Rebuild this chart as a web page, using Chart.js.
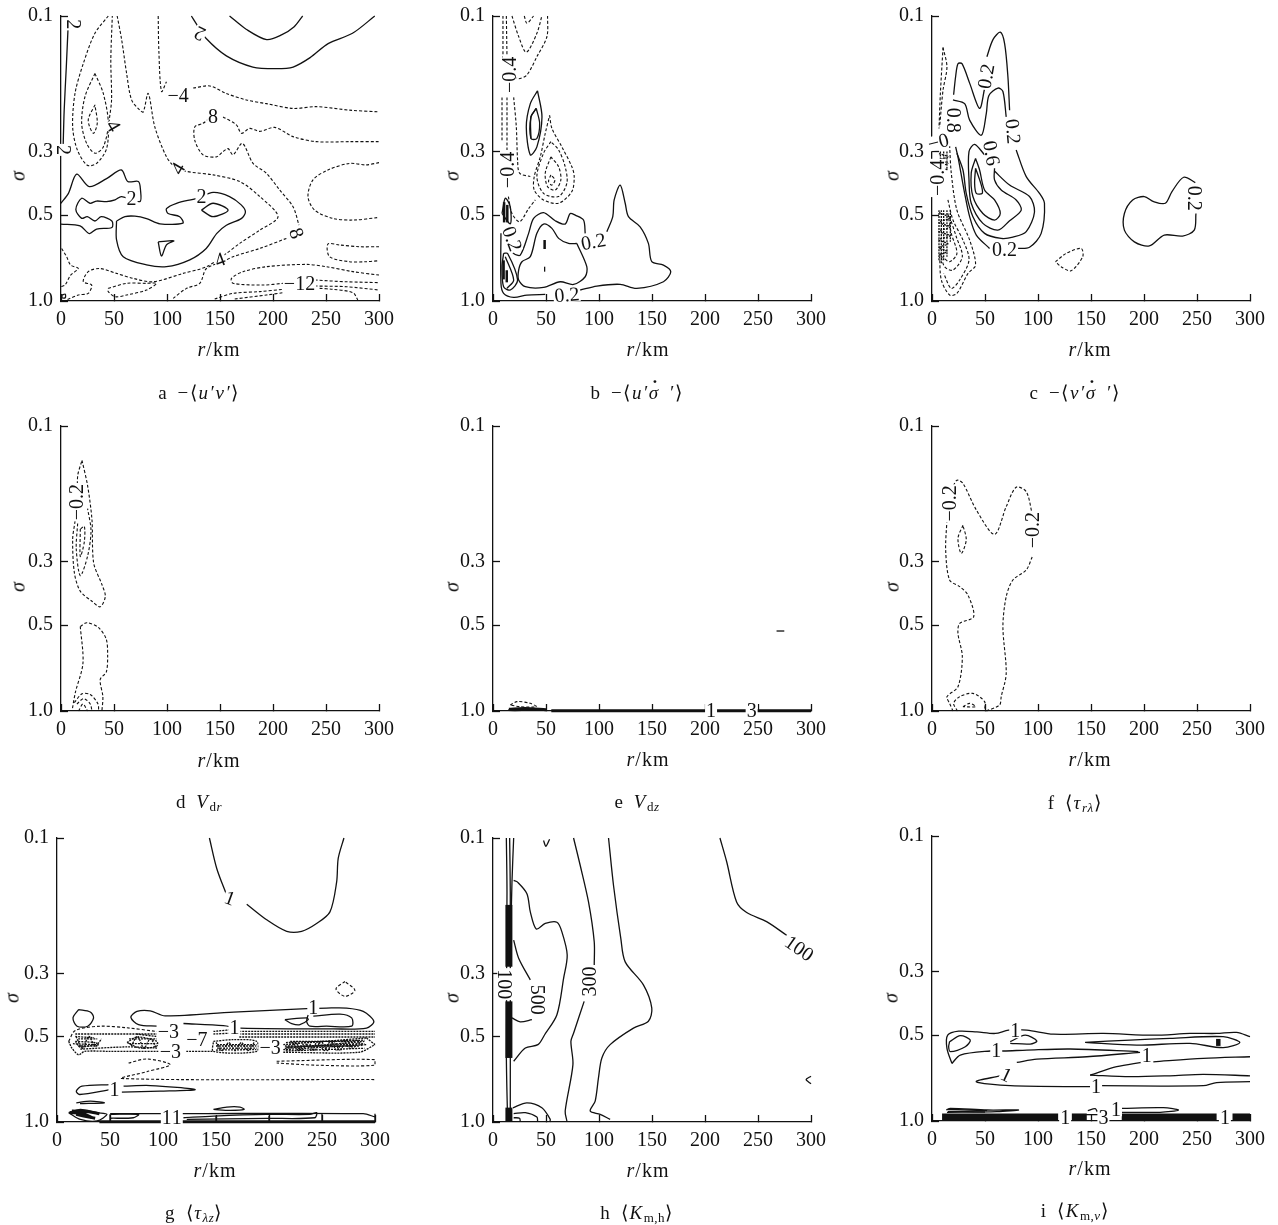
<!DOCTYPE html>
<html>
<head>
<meta charset="utf-8">
<title>Contours</title>
<script src="https://cdn.jsdelivr.net/npm/chart.js@4"></script>
<style>
html, body { margin: 0; padding: 0; background: #fff; overflow: hidden; }
#page { position: relative; width: 1278px; height: 1225px; font-family: "Liberation Serif", serif; color: #111; }
canvas { position: absolute; }
.txt { position: absolute; white-space: nowrap; transform: translate(-50%, -50%); }
.xt { font-size: 20px; letter-spacing: 1px; }
.yt { font-size: 20px; font-style: italic; transform: translate(-50%, -50%) rotate(-90deg); }
.cap { font-size: 19px; letter-spacing: 1.6px; word-spacing: 3px; }
.cap sub { font-size: 13px; vertical-align: -3px; letter-spacing: 0.5px; }
.dot { position: relative; }
.dot::after { content: "˙"; position: absolute; left: 3px; top: -6px; font-weight: bold; font-style: normal; }
</style>
</head>
<body>
<div id="page"></div>
<script>
// axis values
const xMin = 0, xMax = 300, xStep = 50;
const yTicks = [0.1, 0.3, 0.5, 1.0];

// a: -<u'v'>
const aSolid = [
  [[7,.103],[5,.151],[3,.214],[2,.288]],
  [[159,.1],[175,.1115],[194,.121],[208,.1165],[220,.109],[228,.1]],
  [[123,.1],[128,.107],[137,.12],[156,.138],[181,.151],[203,.153],[219,.151],[235,.14],[252,.125],[275,.115],[296,.1]],
  [[0,.454],[7,.419],[14.8,.359],[26.7,.397],[43,.372],[57,.347],[63,.381],[73,.381],[75,.408],[74.4,.448],[57,.43],[51,.442],[43,.448],[33.6,.446],[27.3,.454],[19.5,.436],[14,.477],[19.5,.513],[24.8,.506],[32,.524],[38,.506],[48,.524],[48,.552],[33.6,.559],[26.7,.58],[18,.545],[0,.537]],
  [[52.4,.524],[60.3,.506],[69.7,.504],[80.7,.514],[93.3,.536],[115,.533],[112,.506],[101,.493],[99.5,.474],[109,.454],[128,.436],[143.5,.416],[159,.43],[170,.46],[174,.487],[170,.514],[156,.542],[147,.579],[137,.654],[121.5,.717],[99.5,.758],[80.7,.747],[58.7,.699],[52.4,.61],[52.4,.524]],
  [[132.5,.48],[143.5,.454],[157.6,.48],[143.5,.506],[132.5,.48]],
  [[91.7,.62],[106.4,.615],[99.5,.635],[94.8,.695],[91.7,.62]],
  [[1,.953],[4,.946],[4,.974],[1,.974],[1,.953]]
];
const aDashed = [
  [[44.6,.1],[32,.115],[21,.147],[13.2,.187],[11,.245],[15.4,.295],[24.8,.334],[33.6,.329],[43,.292],[45.5,.232],[47.7,.197],[47,.143],[48.4,.1]],
  [[32,.159],[22.6,.192],[19.5,.238],[24.2,.28],[32,.303],[39.9,.288],[44.6,.238],[39.9,.187],[32,.159]],
  [[32,.205],[25.7,.232],[30.5,.258],[34.2,.238],[32,.205]],
  [[53,.1],[57.2,.121],[61.9,.159],[66.6,.197],[74.4,.214],[77.6,.217],[82.3,.187],[88.5,.245],[99.5,.312],[107.4,.338],[118.4,.351],[143.5,.361],[168.6,.381],[187.5,.43],[204.7,.506],[187.5,.564],[168.6,.628],[156,.681],[137.2,.758],[115.2,.8],[87,.856],[68.1,.833],[52.4,.8],[36.7,.769],[25.7,.789],[21,.856],[28.9,.879],[25.7,.94],[16.3,.953],[5.3,.992]],
  [[44.6,.903],[61.9,.867],[80.7,.867],[90.1,.867],[80.7,.915],[61.9,.953],[50.9,.966],[44.6,.927],[44.6,.903]],
  [[.6,.654],[5.3,.699],[9.1,.748],[16.3,.769],[9.1,.811],[3.8,.879],[0,.891]],
  [[91.7,.1],[92.3,.132],[94.8,.184],[99.5,.17]],
  [[124.7,.179],[140.4,.176],[156,.187],[174.9,.197],[193.7,.203],[218.9,.211],[240.8,.208],[272.2,.214],[300,.217]],
  [[143.5,.223],[134,.238],[126.2,.245],[126.2,.273],[134,.307],[146.6,.312],[152.9,.299],[157.6,.292],[162.3,.307],[171.1,.28],[181.2,.329],[193.7,.356],[206.3,.408],[218.9,.467],[224.5,.542]],
  [[212.6,.603],[187.5,.654],[162.3,.699],[152.9,.728],[137.2,.769],[130.9,.867],[118.4,.903],[105.8,.979]],
  [[152.9,.226],[165.5,.241],[170.2,.258],[178,.248],[187.5,.254],[201.6,.246],[218.9,.265],[240.8,.276],[272.2,.276],[300,.276]],
  [[300,.327],[288,.333],[272.2,.329],[251.8,.347],[237.7,.376],[233,.43],[239.3,.48],[256.5,.513],[275.4,.52],[300,.509]],
  [[300,.645],[281.7,.645],[262.8,.636],[251.8,.631],[253.4,.699],[272.2,.728],[288,.728],[300,.722]],
  [[300,.811],[275.4,.789],[250.3,.758],[231.4,.744],[193.7,.758],[171.8,.789],[160.8,.833],[162.3,.867],[190.6,.879],[209.4,.867]],
  [[239.3,.844],[269.1,.856],[300,.862]],
  [[239.3,.886],[269.1,.891],[300,.915]],
  [[145,.984],[162.3,.94],[187.5,.927],[209.4,.91]],
  [[163.9,.984],[193.7,.953],[209.4,.935]],
  [[244,.903],[256.5,.91],[275.4,.935],[280,.992]]
];
const aLabels = [
  ['2',131,.115,205],['2',11.6,.107,90],['−4',110.5,.19,0],['8',143.5,.226,0],['4',49.3,.243,60],
  ['2',2,.295,90],['4',110.5,.343,-60],['2',66.6,.436,0],['2',132.5,.43,0],['8',222,.579,70],
  ['4',150,.718,-20],['−12',225,.867,0]
];

// b: -<u' sigma-dot'>
const bSolid = [
  [[107.4,.571],[113,.506],[114.3,.442],[120,.392],[124.7,.454],[127.8,.506],[138.8,.549],[146.6,.628],[149.8,.728],[160.8,.748],[167.7,.789],[160.8,.856],[135.6,.903],[120,.874],[98,.886],[82.3,.915]],
  [[49.3,.948],[32,.953],[19.5,.971],[10,.94],[7.5,.867],[7.5,.579]],
  [[87,.579],[85.4,.52],[77.6,.5],[72.8,.493],[68.1,.537],[58.7,.523],[47.7,.49],[38.3,.513],[33.6,.579],[25.7,.69],[19.5,.681],[13.8,.636]],
  [[79.1,.628],[88.5,.758],[87,.822],[76,.875],[63.4,.856],[47.7,.896],[30.5,.891],[24.2,.844],[24.2,.779],[27.3,.728],[35.2,.699],[41.4,.579],[47.7,.537],[55.6,.556],[61.9,.603],[71.3,.628],[79.1,.628]],
  [[8.5,.493],[11.6,.436],[16.3,.467],[16.3,.536],[8.5,.493]],
  [[10,.681],[13.8,.681],[23.2,.844],[16.3,.915],[10,.891],[8.5,.758],[10,.681]],
  [[11.6,.699],[19.5,.844],[13.2,.903]],
  [[48.7,.758],[48.7,.789]],
  [[42,.183],[35.2,.203],[31.4,.245],[35.2,.307],[41.4,.288],[46.2,.226],[42,.183]],
  [[40.8,.211],[35.8,.226],[35.8,.269],[41.4,.269],[44,.238],[40.8,.211]],
  [[40.8,.211],[35.8,.226],[35.8,.269]]
];
const bThick = [
  [[48.7,.611],[48.7,.657]],
  [[10,.72],[10,.84]],
  [[13,.78],[13,.86]],
  [[10.5,.45],[10.5,.53]],
  [[13.5,.46],[13.5,.53]]
];
const bDashed = [
  [[9.4,.1],[9.4,.14]],
  [[12.6,.1],[13.2,.14]],
  [[17.9,.1],[24.2,.118],[31.4,.134],[41.4,.115],[46.1,.1]],
  [[29.5,.1],[32,.106],[38.3,.1]],
  [[51.5,.1],[50.9,.118],[41.4,.139],[32,.161],[24.2,.166],[19.5,.163]],
  [[8.5,.193],[8.5,.273]],
  [[13.2,.193],[13.2,.295]],
  [[19.5,.193],[22,.245],[23.2,.32],[25.1,.356],[35.2,.366]],
  [[53.4,.223],[55.6,.248],[65,.288],[74.4,.338],[76.6,.366],[74.4,.413],[61.9,.454],[47.7,.442],[38.9,.408],[38.9,.366],[44.6,.312],[49.3,.258],[53.4,.223]],
  [[54.6,.276],[47.7,.303],[41.4,.366],[47.7,.419],[61.9,.43],[69.7,.386],[68.1,.338],[61.9,.295],[54.6,.276]],
  [[54.6,.312],[49.3,.356],[51.5,.397],[58.7,.408],[64,.376],[61.9,.338],[54.6,.312]],
  [[54.6,.361],[52.4,.381],[55.6,.392],[58.4,.376],[54.6,.361]],
  [[14.5,.43],[17.9,.493],[25.1,.527],[33.6,.474],[39.9,.442]]
];
const bLabels = [
  ['−0.4',15.7,.161,-90],['−0.4',13.8,.347,-90],['0.2',17.9,.605,70],['0.2',94.8,.62,-10],['0.2',69.7,.953,-5]
];

// c: -<v' sigma-dot'>
const cSolid = [
  [[51.8,.139],[57.5,.121],[64.4,.114],[68.5,.125],[71.6,.163],[73.2,.214]],
  [[79.4,.295],[88.9,.366],[101.4,.419],[106.1,.454],[103,.579],[92,.648],[79.4,.654]],
  [[54.3,.654],[41.8,.587],[35.5,.506],[30.8,.419],[24.5,.312],[22.3,.288]],
  [[49.6,.18],[44.9,.211],[35.5,.172],[28.3,.147],[24.5,.147],[22.3,.163],[20.4,.189]],
  [[19.8,.197],[30.8,.203],[35.5,.232],[46.5,.262],[51.2,.22],[53.7,.19],[62.2,.179],[66.9,.184],[70,.226]],
  [[58.9,.35],[73.2,.392],[92,.43],[96.7,.487],[88.9,.571],[76.3,.597],[65.3,.603],[49.6,.579],[38.6,.506],[32.3,.419],[29.2,.347],[23.5,.303]],
  [[49.6,.307],[40.2,.282],[34.9,.299],[34.9,.376],[37,.454],[48,.534],[62.2,.564],[73.2,.523],[84.2,.48],[79.4,.442],[65.3,.408],[59,.376],[59,.342]],
  [[41.1,.316],[37,.356],[38.6,.43],[48,.493],[59,.52],[64.4,.493],[59,.442],[49.6,.408],[44.9,.347],[41.1,.316]],
  [[41.1,.342],[40.2,.386],[41.8,.419],[47.4,.419],[46.5,.392],[41.1,.342]],
  [[248.4,.384],[237.4,.368],[226.4,.413],[220.1,.454],[209.1,.448],[200.3,.43],[189.3,.442],[181.5,.493],[181.5,.564],[190.9,.62],[205,.641],[219.1,.587],[236.4,.592],[247.4,.564],[249,.493]]
];
const cDashed = [
  [[10.4,.129],[14.1,.151],[10.4,.182],[7.2,.245]],
  [[10.4,.129],[7.9,.187],[6.6,.248]],
  [[16.6,.284],[18.2,.356],[23.5,.48],[35.5,.611],[41.1,.748],[34,.8],[23.5,.94],[16.6,.953],[8.8,.844],[7.2,.699]],
  [[15,.442],[19.8,.52],[29.2,.611],[34.9,.718],[26.1,.844],[18.2,.903],[11,.8]],
  [[16.6,.506],[22.9,.595],[28.6,.699],[19.8,.779],[11.9,.758],[7.9,.681]],
  [[15,.493],[18.2,.579],[23.5,.681],[16.6,.728],[9.7,.699]],
  [[116.5,.728],[126.5,.681],[140.7,.654],[142.2,.699],[131.2,.783],[121.8,.758],[116.5,.728]]
];
const cDense = [
  [[7.9,.299],[7.9,.347]],[[11,.299],[11,.347]],[[14.1,.299],[14.1,.347]],
  [[6.6,.304],[15,.312],[6.6,.32],[15,.329],[6.6,.338],[15,.347]],
  [[6.6,.48],[6.6,.72]],[[8.8,.48],[8.8,.74]],[[11,.48],[11,.72]],[[14.1,.48],[14.1,.7]],[[17.3,.48],[17.3,.62]],
  [[6.6,.49],[17,.51],[6.6,.53],[17,.55],[6.6,.57],[17,.59],[6.6,.61],[15,.63],[6.6,.65],[14,.67],[6.6,.69]]
];
const cLabels = [
  ['0.2',51.2,.163,-80],['0.2',76.3,.254,85],['0.6',55.9,.303,80],['0.8',19.8,.232,90],['−0',6,.277,-15],
  ['−0.4',5.6,.37,-90],['0.2',68.5,.66,0],['0.2',247.4,.436,90]
];

// d: V_dr
const dSolid = [];
const dDashed = [
  [[19.8,.132],[25.1,.162],[29.2,.213],[30.8,.302],[38.6,.36],[41.8,.396],[37,.431],[29.2,.412],[18.2,.38],[12.6,.327],[11,.25],[13,.219],[15.7,.19],[15.7,.15],[19.8,.132]],
  [[15.7,.22],[14.4,.27],[18.2,.335],[25.1,.286],[28.3,.233],[25.1,.195]],
  [[18.2,.23],[18.2,.287],[22,.255],[22,.225],[18.2,.23]],
  [[18.2,.505],[24.5,.49],[35.5,.51],[42.7,.56],[44,.64],[42.7,.73],[37,.775],[39.5,.89],[38.6,1]],
  [[18.2,.505],[20.7,.68],[13.5,.862],[10.4,1]],
  [[12.6,.935],[19.8,.87],[27.6,.875],[34.9,.945],[35.5,1]],
  [[15,.945],[21.4,.905],[27.6,.945],[29.2,1]],
  [[16.6,1],[20.7,.945],[25,1]]
];
const dLabels = [['−0.2',15,.185,-90]];

// e: V_dz
const eSolid = [
  [[15,.985],[15,.995],[30,.995],[45,.99]],
  [[267.5,.524],[274.8,.524]]
];
const eThick = [
  [[55,.998],[300,.998]],
  [[15,.985],[30,.98],[50,.99]]
];
const eDashed = [
  [[16.3,.953],[22.6,.927],[35.2,.94],[40.8,.966],[25.7,.966],[16.3,.953]]
];
const eLabels = [['1',205.7,1,0],['3',244,1,0]];

// f: <tau_r lambda>
const fSolid = [];
const fDashed = [
  [[14.1,.214],[12.9,.273],[16.6,.347],[26.1,.366],[33.9,.392],[39.3,.467],[26.1,.493],[24.5,.534],[28.6,.645],[24.5,.822],[14.1,.891],[16.6,.94],[19.8,1]],
  [[18.2,.168],[23.5,.155],[29.2,.159],[41.8,.197],[59,.24],[70,.192],[79.4,.164],[88.9,.17],[94.5,.203]],
  [[94.5,.288],[88.9,.32],[76.3,.347],[70,.397],[66.9,.506],[70,.738],[65.3,.891],[63.7,.953],[51.2,1]],
  [[29.2,.223],[24.5,.248],[27.6,.28],[32.3,.251],[29.2,.223]],
  [[24,1],[20.4,.94],[26.1,.891],[38.6,.867],[49.6,.927],[49.6,1]],
  [[29.2,.966],[35.5,.94],[41.1,.966],[29.2,.966]]
];
const fLabels = [['−0.2',16.6,.187,-90],['−0.2',95,.232,-90]];

// g: <tau_lambda z>
const gSolid = [
  [[143.8,.1],[150.7,.128],[160.1,.159]],
  [[179,.171],[197.8,.194],[216.7,.213],[230.8,.213],[244.9,.2],[257.5,.182],[263.8,.143],[265.3,.118],[270.7,.1]],
  [[20.4,.402],[15.1,.43],[18.9,.46],[29,.46],[34.5,.43],[31.4,.41],[20.4,.402]],
  [[94.2,.46],[76.9,.454],[69.7,.428],[75.4,.408],[87.9,.406],[102,.423],[166.4,.41],[235.5,.399],[254.3,.397],[273.2,.397],[288.9,.408],[298.9,.442],[292,.467],[260.6,.47],[172.7,.467],[157,.458],[119.3,.45]],
  [[241.8,.424],[267,.417],[278,.43],[278,.46],[254.3,.46],[238.6,.46],[235.5,.442],[237,.419]],
  [[215,.436],[235.5,.43],[237,.436],[229.2,.454],[221.4,.45],[215,.436]],
  [[50.2,.738],[23.5,.748],[18.2,.779],[21.4,.8],[50.2,.769]],
  [[62.8,.748],[87.9,.744],[130.3,.769],[97.3,.779],[61.2,.785]],
  [[18.2,.856],[31.4,.844],[44.6,.856],[21.7,.862]],
  [[11,.927],[22,.903],[37.7,.927],[47.1,.94],[37.7,.992],[22,.979],[11,.927]],
  [[50.2,.935],[100.5,.935]],[[117.8,.935],[288.9,.935],[300,.96]],
  [[50.2,.94],[76.9,.94],[72,.966],[50.2,.97]],
  [[119.3,.966],[147.6,.953],[197.8,.94],[238.6,.94],[245,.927],[243.2,.966],[197.8,.971],[122.4,.979]],
  [[147.6,.903],[160.1,.886],[172.7,.886],[176.5,.903],[163.3,.91],[147.6,.903]],
  [[300,.935],[300,1]],[[250,.935],[250,1]],[[200,.95],[200,1]],[[150,.95],[150,1]],[[50,.94],[50,1]]
];
const gThick = [
  [[14,.915],[30,.92],[40,.935]],
  [[18,.94],[30,.96],[36,.97]],
  [[12,.925],[25,.935],[33,.965]],
  [[40,.998],[100,.998]],
  [[118,.998],[300,.998]]
];
const gDashed = [
  [[271.6,.32],[263.2,.34],[271.6,.361],[281,.344],[271.6,.32]],
  [[11,.52],[17.3,.476],[40.8,.46],[66,.466],[94.2,.48]],
  [[67.5,.62],[84.8,.6],[106.8,.628],[84.8,.665],[61.2,.703],[300,.709]],
  [[207.2,.611],[300,.603],[300,.631],[245,.631],[207.2,.62]]
];
const gDense = [
  [[17.3,.49],[40.8,.49],[94.2,.49]],
  [[11,.52],[14,.549],[20.4,.58],[26,.564],[50.2,.564],[94.2,.564],[115,.564]],
  [[17.3,.52],[37.7,.527],[22,.545],[17.3,.52]],
  [[66,.525],[75.4,.502],[94.2,.52],[94.2,.54],[78.5,.549],[66,.525]],
  [[22,.554],[66,.544],[94.2,.549]],
  [[17.3,.5],[35,.505]],[[15,.53],[40,.535]],[[75,.49],[94,.5]],
  [[20,.51],[38,.51]],[[20,.54],[38,.54]],[[68,.51],[94,.51]],[[68,.53],[94,.53]],
  [[147.6,.48],[172,.47]],[[147.6,.49],[172,.485]],
  [[172,.48],[300,.48]],[[172,.49],[300,.49]],[[172,.502],[300,.502]],
  [[147.6,.52],[166.4,.513],[188.4,.52],[188.4,.564],[147.6,.564],[147.6,.52]],
  [[151,.534],[188.4,.534]],[[151,.549],[188.4,.549]],[[150,.54],[188,.54]],[[150,.558],[188,.556]],
  [[122,.564],[147.6,.564]],
  [[213.5,.534],[292,.506]],[[213.5,.556],[292,.534]],[[213.5,.568],[285,.568],[300,.534]],
  [[292,.506],[300,.534]],
  [[220,.52],[280,.52]],[[215,.54],[285,.54]],[[215,.55],[290,.52]],
  [[216,.525],[290,.515]],[[216,.545],[290,.53]],[[216,.562],[290,.55]],
  [[216,.56],[222,.525],[228,.56],[234,.525],[240,.56],[246,.52],[252,.56],[258,.52],[264,.56],[270,.515],[276,.55],[282,.515],[288,.54]],
  [[219,.56],[225,.525],[231,.56],[237,.525],[243,.56],[249,.52],[255,.56],[261,.52],[267,.56],[273,.515],[279,.55],[285,.515]],
  [[18,.5],[24,.55],[30,.5],[36,.54],[42,.51]],
  [[70,.54],[76,.5],[82,.55],[88,.51],[94,.55]],
  [[150,.525],[156,.56],[162,.525],[168,.56],[174,.525],[180,.56],[186,.525]]
];
const gLabels = [
  ['1',163,.163,20],['1',241.8,.397,0],['1',167.4,.467,0],['−3',105,.48,0],['−7',132,.513,0],['−3',107,.564,0],
  ['−3',201,.549,0],['1',54.2,.769,0],['1',103.6,.966,0],['1',113,.966,0]
];

// h: <K_m,h>
const hSolid = [
  [[12.6,.1],[13.2,.155],[12.6,.579],[13.8,1]],
  [[15.7,.1],[16.3,.155],[16.3,1]],
  [[19.5,.1],[17.9,.143],[16.3,.258]],
  [[19.5,.141],[23.2,.143],[32,.157],[35.2,.182],[40.8,.209],[49.3,.2],[60.3,.198],[65,.214],[70,.258],[66.6,.312],[60.3,.419],[48.7,.493],[42.4,.534],[30.5,.549],[19.5,.611]],
  [[19.5,.229],[24.2,.265],[35.2,.316]],
  [[17.9,.43],[25.7,.444],[36.7,.436]],
  [[76,.1],[82.3,.125],[90.1,.168],[95.5,.232],[95.5,.28]],
  [[86,.376],[76,.487],[73.5,.52],[75.4,.628],[68.1,.915],[69.7,.992]],
  [[109,.1],[113.7,.147],[120.6,.226],[124.7,.273],[141.9,.329],[149.8,.397],[146.6,.442],[132.5,.467],[110.5,.534],[102.7,.595],[99.5,.699],[96.4,.844],[91.7,.915],[101.1,.94],[110.5,.979]],
  [[214.1,.1],[220.4,.121],[229.8,.168],[239.3,.183],[258.1,.197],[277,.22]],
  [[18.8,.891],[32,.856],[46.1,.891],[54,.979],[53.4,1]],
  [[19.5,.935],[30.5,.927],[41.4,.961],[42.1,1]],
  [[19.5,.966],[25.1,.97],[25.7,1]],
  [[47.7,.102],[49.9,.107],[53.4,.101]],
  [[300,.69],[295.4,.709],[300,.734]]
];
const hThick = [
  [[15,.172],[15,.284]],
  [[15,.376],[15,.595]],
  [[15,.89],[15,1]]
];
const hDashed = [];
const hLabels = [['500',41.4,.371,90],['100',288.9,.245,35],['100',10.7,.327,90],['300',91.7,.32,-90]];

// i: <K_m,v>
const iSolid = [
  [[18.8,.628],[14.1,.556],[14.8,.5],[25.1,.484],[42.4,.487],[59.7,.493],[72.2,.48],[89.5,.48],[114.6,.496],[161.7,.493],[208.8,.5],[243.4,.493],[268.5,.493],[287.3,.489],[300,.506]],
  [[18.8,.628],[26.7,.587],[55,.568],[67.5,.568],[89.5,.564],[130.3,.559],[194.7,.571]],
  [[144.4,.53],[186.8,.52],[224.5,.513],[274.7,.506],[290.4,.53],[274.7,.553],[243.4,.534],[193.1,.542],[144.4,.53]],
  [[16.6,.527],[26.7,.502],[36.1,.52],[31.4,.549],[17.3,.571],[15.7,.549],[16.6,.527]],
  [[73.8,.527],[87.9,.5],[98.9,.524],[92.6,.537],[73.8,.534]],
  [[80,.623],[98.9,.607],[146,.595],[196.3,.574]],
  [[149.2,.69],[174.3,.645],[197.8,.623]],
  [[208.8,.62],[255.9,.603],[300,.595]],
  [[64.4,.694],[41.8,.728],[73.8,.752],[149.2,.758]],
  [[158.6,.752],[255.9,.752],[268.5,.733],[300,.728]],
  [[149.2,.69],[186.8,.699],[224.5,.694],[255.9,.686],[300,.694]],
  [[13.5,.915],[17.3,.903],[51.8,.915],[81.6,.915],[61.2,.927],[14.1,.932]],
  [[15,.91],[52,.92]],[[15,.925],[50,.93]],
  [[179,.903],[218.3,.898],[232.4,.915],[215.2,.932],[179,.932]],
  [[147,.92],[154,.905],[156,.93]],
  [[140,.95],[158,.95]]
];
const iThick = [
  [[268,.53],[272.2,.53]],
  [[9.5,.968],[119,.968]],
  [[131.9,.968],[146,.968]],
  [[179,.968],[268.5,.968]],
  [[283.5,.968],[300,.968]]
];
const iDashed = [];
const iLabels = [
  ['1',78.5,.484,0],['1',60.6,.568,0],['1',202.5,.592,0],['1',70,.69,25],['1',154.8,.758,0],
  ['1',125.6,.975,0],['3',161.7,.975,0],['1',173.6,.91,0],['1',276.3,.975,0]
];

const FONT = '"Liberation Serif", serif';
const INK = '#111';

const panels = [
  { box: [61, 16, 379, 301], solid: aSolid, thick: [], dashed: aDashed, dense: [], thickW: 3, labels: aLabels, xt: [219, 349], yt: [18, 176], cap: [199, 392],
    html: 'a −⟨<i>u′v′</i>⟩' },
  { box: [493, 16, 811, 301], solid: bSolid, thick: bThick, dashed: bDashed, dense: [], thickW: 2.5, labels: bLabels, xt: [648, 349], yt: [452, 176], cap: [637, 392],
    html: 'b −⟨<i>u′<span class="dot">σ</span> ′</i>⟩' },
  { box: [932, 16, 1250, 301], solid: cSolid, thick: [], dashed: cDashed, dense: cDense, thickW: 3, labels: cLabels, xt: [1090, 349], yt: [892, 176], cap: [1075, 392],
    html: 'c −⟨<i>v′<span class="dot">σ</span> ′</i>⟩' },
  { box: [61, 426, 379, 711], solid: dSolid, thick: [], dashed: dDashed, dense: [], thickW: 3, labels: dLabels, xt: [219, 760], yt: [18, 587], cap: [199, 803],
    html: 'd <i>V</i><sub>d<i>r</i></sub>' },
  { box: [493, 426, 811, 711], solid: eSolid, thick: eThick, dashed: eDashed, dense: [], thickW: 3, labels: eLabels, xt: [648, 759], yt: [452, 587], cap: [637, 803],
    html: 'e <i>V</i><sub>d<i>z</i></sub>' },
  { box: [932, 426, 1250, 711], solid: fSolid, thick: [], dashed: fDashed, dense: [], thickW: 3, labels: fLabels, xt: [1090, 759], yt: [892, 587], cap: [1075, 803],
    html: 'f ⟨<i>τ</i><sub><i>rλ</i></sub>⟩' },
  { box: [57, 838, 375, 1122], solid: gSolid, thick: gThick, dashed: gDashed, dense: gDense, thickW: 3, labels: gLabels, xt: [215, 1170], yt: [12, 998], cap: [194, 1213],
    html: 'g ⟨<i>τ</i><sub><i>λz</i></sub>⟩' },
  { box: [493, 838, 811, 1122], solid: hSolid, thick: hThick, dashed: hDashed, dense: [], thickW: 7, labels: hLabels, xt: [648, 1170], yt: [452, 998], cap: [637, 1213],
    html: 'h ⟨<i>K</i><sub>m,h</sub>⟩' },
  { box: [932, 836, 1250, 1121], solid: iSolid, thick: iThick, dashed: iDashed, dense: [], thickW: 7, labels: iLabels, xt: [1090, 1168], yt: [891, 998], cap: [1075, 1211],
    html: 'i ⟨<i>K</i><sub>m,<i>v</i></sub>⟩' }
];

const page = document.getElementById('page');

function addText(cls, pos, html) {
  const el = document.createElement('div');
  el.className = 'txt ' + cls;
  el.style.left = pos[0] + 'px';
  el.style.top = pos[1] + 'px';
  el.innerHTML = html;
  page.appendChild(el);
}

function toDataset(line, width, dash) {
  return {
    data: line.map(p => ({ x: p[0], y: p[1] })),
    showLine: true, pointRadius: 0, borderColor: INK, backgroundColor: INK,
    borderWidth: width, borderDash: dash, tension: 0.3, clip: 4
  };
}

// contour labels, with a white box that breaks the line behind them
const labelPlugin = {
  id: 'contourLabels',
  afterDatasetsDraw(chart, args, opts) {
    const ctx = chart.ctx;
    opts.items.forEach(([text, r, s, angle]) => {
      const px = chart.scales.x.getPixelForValue(r);
      const py = chart.scales.y.getPixelForValue(s);
      ctx.save();
      ctx.translate(px, py);
      ctx.rotate(angle * Math.PI / 180);
      ctx.font = '20px ' + FONT;
      ctx.textAlign = 'center';
      ctx.textBaseline = 'middle';
      const w = ctx.measureText(text).width;
      ctx.fillStyle = '#fff';
      ctx.fillRect(-w / 2 - 1, -7, w + 2, 14);
      ctx.fillStyle = INK;
      ctx.fillText(text, 0, 1);
      ctx.restore();
    });
  }
};

const PAD_L = 60, PAD_T = 15, PAD_R = 25, PAD_B = 45;

// the tick labels must not push the plot area in: its box is fixed by the padding above
function fixFit(s, prop, size) {
  s[prop] = size;
  s.paddingLeft = s.paddingRight = s.paddingTop = s.paddingBottom = 0;
}

panels.forEach(p => {
  const [x0, y0, x1, y1] = p.box;
  const canvas = document.createElement('canvas');
  canvas.width = x1 - x0 + PAD_L + PAD_R;
  canvas.height = y1 - y0 + PAD_T + PAD_B;
  canvas.style.left = (x0 - PAD_L) + 'px';
  canvas.style.top = (y0 - PAD_T) + 'px';
  page.appendChild(canvas);

  const datasets = [
    ...p.solid.map(l => toDataset(l, 1.3, [])),
    ...p.thick.map(l => toDataset(l, p.thickW, [])),
    ...p.dashed.map(l => toDataset(l, 1.1, [3, 2])),
    ...p.dense.map(l => toDataset(l, 1.3, [2, 1]))
  ];

  new Chart(canvas, {
    type: 'scatter',
    data: { datasets },
    options: {
      responsive: false,
      animation: false,
      layout: { autoPadding: false, padding: { left: 0, top: PAD_T, right: PAD_R, bottom: 0 } },
      plugins: { legend: { display: false }, tooltip: { enabled: false }, contourLabels: { items: p.labels } },
      scales: {
        x: {
          type: 'linear', min: xMin, max: xMax,
          afterFit: s => fixFit(s, 'height', PAD_B),
          border: { color: INK, width: 1.3 },
          grid: { drawOnChartArea: false, tickLength: -7, tickColor: INK, tickWidth: 1.3 },
          ticks: { stepSize: xStep, color: INK, font: { family: FONT, size: 20 }, padding: 14, maxRotation: 0, autoSkip: false }
        },
        y: {
          type: 'logarithmic', min: yTicks[0], max: yTicks[yTicks.length - 1], reverse: true,
          afterFit: s => fixFit(s, 'width', PAD_L),
          afterBuildTicks: s => { s.ticks = yTicks.map(v => ({ value: v })); },
          border: { color: INK, width: 1.3 },
          grid: { drawOnChartArea: false, tickLength: -7, tickColor: INK, tickWidth: 1.3 },
          ticks: { color: INK, font: { family: FONT, size: 20 }, padding: 15, autoSkip: false, callback: v => Number(v).toFixed(1) }
        }
      }
    },
    plugins: [labelPlugin]
  });

  addText('xt', p.xt, '<i>r</i>/km');
  addText('yt', p.yt, 'σ');
  addText('cap', p.cap, p.html);
});
</script>
</body>
</html>
